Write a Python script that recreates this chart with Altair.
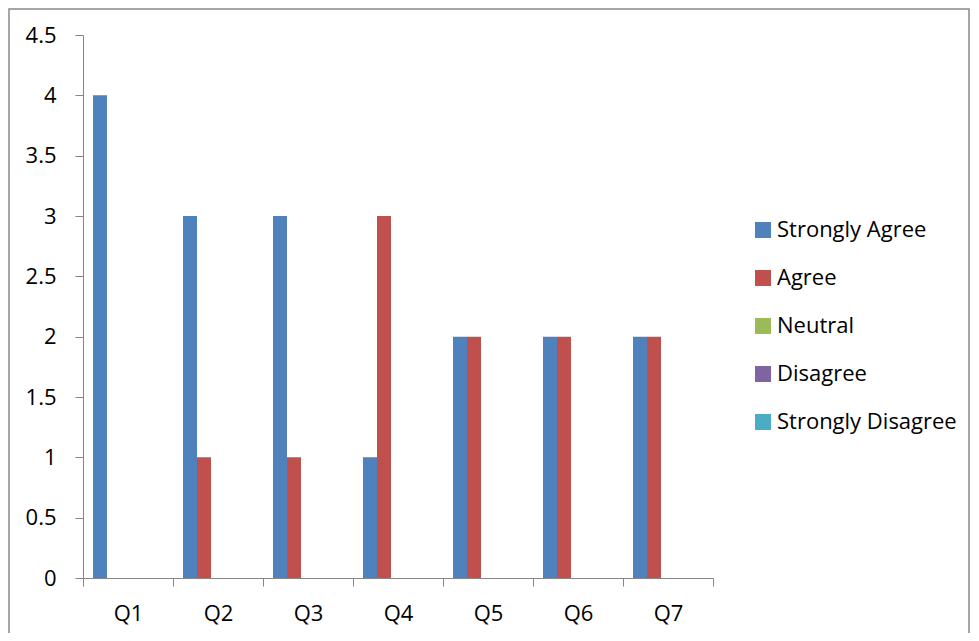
import altair as alt
import pandas as pd

questions = ["Q1", "Q2", "Q3", "Q4", "Q5", "Q6", "Q7"]
series = ["Strongly Agree", "Agree", "Neutral", "Disagree", "Strongly Disagree"]
colors = ["#4F81BD", "#C0504D", "#9BBB59", "#8064A2", "#4BACC6"]
strongly_agree = [4, 3, 3, 1, 2, 2, 2]
agree = [0, 1, 1, 3, 2, 2, 2]
neutral = [0, 0, 0, 0, 0, 0, 0]
disagree = [0, 0, 0, 0, 0, 0, 0]
strongly_disagree = [0, 0, 0, 0, 0, 0, 0]
y_ticks = [0, 0.5, 1, 1.5, 2, 2.5, 3, 3.5, 4, 4.5]

values = [strongly_agree, agree, neutral, disagree, strongly_disagree]
rows = []
for s, vals in zip(series, values):
    for q, v in zip(questions, vals):
        rows.append({"Question": q, "Response": s, "Count": v})
df = pd.DataFrame(rows)

FONT = "Open Sans"
FS = 22
W, H = 630, 543

bars = alt.Chart(df).mark_bar().encode(
    x=alt.X("Question:N", sort=questions,
            scale=alt.Scale(paddingInner=0, paddingOuter=0),
            axis=alt.Axis(title=None, labelAngle=0, tickBand="extent",
                          domainColor="#868686", tickColor="#868686",
                          tickSize=8, labelPadding=17, labelFontSize=FS,
                          labelColor="black", labelFont=FONT)),
    xOffset=alt.XOffset("Response:N", sort=series,
                        scale=alt.Scale(paddingInner=0, paddingOuter=0.714)),
    y=alt.Y("Count:Q",
            scale=alt.Scale(domain=[0, 4.5], nice=False),
            axis=alt.Axis(title=None, values=y_ticks, format="~g",
                          grid=False, domainColor="#868686", tickColor="#868686",
                          tickSize=8, labelPadding=19, labelFontSize=FS,
                          labelColor="black", labelFont=FONT)),
    color=alt.Color("Response:N", sort=series,
                    scale=alt.Scale(domain=series, range=colors),
                    legend=alt.Legend(title=None, orient="none",
                                      legendX=669, legendY=184,
                                      symbolType="square", symbolSize=256,
                                      symbolStrokeWidth=0, labelLimit=400,
                                      labelFontSize=FS, labelFont=FONT,
                                      labelColor="black", rowPadding=26,
                                      labelOffset=3)),
)

frame = alt.Chart(alt.Data(values=[{}])).mark_rect(
    fill=None, stroke="#888888", strokeWidth=1.5
).encode(
    x=alt.value(-74), x2=alt.value(886),
    y=alt.value(-26), y2=alt.value(620),
)

chart = alt.layer(frame, bars).properties(
    width=W, height=H,
    autosize=alt.AutoSizeParams(type="none"),
    padding={"left": 75, "top": 27, "right": 258, "bottom": 55},
).configure_view(stroke=None)

chart.save("out.html", embed_options={"renderer": "svg", "actions": False})
